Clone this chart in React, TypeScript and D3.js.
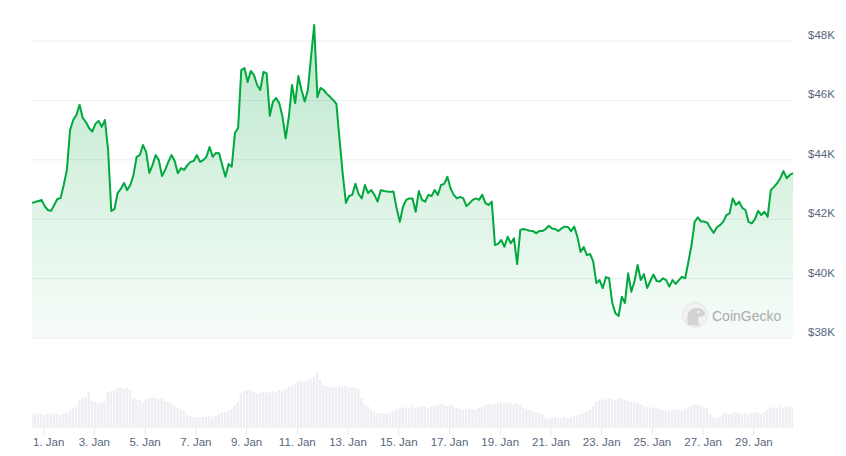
import { useMemo } from "react";
import * as d3 from "d3";

const W = 846;
const H = 456;
const M = { left: 32, right: 793, priceTop: 41, priceBottom: 338, volTop: 368, volBottom: 428 };

// hourly-ish samples, one every 3 hours, from 31 Dec 13:00 UTC
const START = Date.UTC(2023, 11, 31, 13);
const STEP_H = 3;

const PRICES = [
  42550, 42580, 42610, 42650, 42440, 42310, 42280, 42480, 42680, 42710,
  43150, 43660, 45000, 45340, 45510, 45850, 45410, 45270, 45070, 44950,
  45210, 45310, 45110, 45340, 44330, 42280, 42340, 42880, 43020, 43220,
  42980, 43150, 43490, 44100, 44160, 44500, 44260, 43560, 43820, 44160,
  43990, 43450, 43660, 43930, 44160, 43960, 43550, 43720, 43660, 43820,
  43930, 43960, 44160, 43930, 43990, 44100, 44430, 44100, 44230, 44220,
  43820, 43430, 43860, 43770, 44900, 45070, 47020, 47090, 46620, 46990,
  46860, 46520, 46350, 46960, 46910, 45480, 45960, 46080, 45900, 45450,
  44720, 45450, 46520, 45910, 46820, 46350, 45960, 46350, 47470, 48540,
  46110, 46420, 46350, 46220, 46120, 46010, 45880, 44670, 43520, 42550,
  42780, 42820, 43190, 42850, 42700, 43150, 42880, 42980, 42820, 42590,
  42980, 42950, 42930, 42920, 42930, 42370, 41910, 42420, 42650, 42700,
  42700, 42250, 42950, 42650, 42590, 42820, 42780, 42980, 42820, 43150,
  43190, 43430, 43040, 42820, 42700, 42750, 42710, 42440, 42540, 42650,
  42700, 42650, 42820, 42540, 42480, 42590, 41130, 41170, 41300, 41070,
  41410, 41190, 41360, 40490, 41640, 41670, 41640, 41610, 41600, 41530,
  41600, 41600, 41670, 41780, 41690, 41670, 41600, 41690, 41750, 41740,
  41600, 41750, 41410, 40900, 41060, 40790, 40830, 40570, 39850, 39950,
  39680, 40050, 40010, 39180, 38830, 38740, 39390, 39180, 40180, 39560,
  39900, 40460, 39950, 40150, 39680, 39920, 40140, 39920, 39900, 40010,
  39950, 39730, 39950, 39820, 39950, 40060, 40010, 40560, 41130, 41920,
  42060, 41920, 41920, 41880, 41690, 41540, 41730, 41800, 41920, 42140,
  42200, 42700, 42480, 42590, 42380, 42310, 41910, 41860, 42000, 42280,
  42140, 42250, 42080, 42980, 43090, 43210, 43380, 43620, 43380, 43490,
  43550,
];

// traded volume, billions USD, same 3-hour steps
const VOLUMES = [
  0.72, 0.68, 0.74, 0.7, 0.66, 0.71, 0.69, 0.73, 0.7, 0.67, 0.72, 0.75,
  0.9, 1.0, 1.05,
  1.4, 1.5, 1.55, 1.8,
  1.35, 1.3, 1.25, 1.3, 1.35,
  1.8, 1.85,
  1.9, 2.0, 2.05, 1.95, 2.0, 1.9,
  1.5, 1.45, 1.4,
  1.25,
  1.45, 1.5, 1.55, 1.5, 1.45, 1.5,
  1.35, 1.3, 1.25,
  1.1, 1.0, 0.95, 0.85,
  0.65, 0.6, 0.55, 0.55, 0.5, 0.55, 0.55, 0.6, 0.55, 0.6,
  0.7, 0.8, 0.8, 0.85, 0.95,
  1.15, 1.3,
  1.75, 1.85, 1.9, 1.85, 1.8,
  1.7, 1.75, 1.8,
  1.8, 1.75, 1.85, 1.8, 1.9, 1.85,
  1.95, 2.05, 2.1,
  2.2, 2.3,
  2.35, 2.3, 2.4,
  2.45, 2.55,
  2.8,
  2.4, 2.15,
  2.1, 2.05, 2.0, 2.05, 2.1,
  2.05, 2.1, 2.0, 2.05, 2.0, 1.95,
  1.5,
  1.2, 1.1,
  0.9, 0.8, 0.75, 0.75, 0.7, 0.75,
  0.8, 0.85,
  0.95, 1.0, 1.0, 1.05, 1.0, 1.05, 1.0,
  1.05, 1.1, 1.05, 1.0, 1.05, 1.1,
  1.15, 1.2, 1.15, 1.1, 1.15, 1.1,
  1.0, 0.95, 0.9, 0.95, 1.0, 0.95, 0.9, 1.0,
  1.05, 1.15, 1.2, 1.15,
  1.2, 1.25, 1.3, 1.25, 1.3, 1.25, 1.2, 1.25,
  1.15, 1.0, 0.95, 0.9,
  0.85, 0.8, 0.75, 0.7,
  0.5, 0.45, 0.5, 0.55,
  0.5, 0.5, 0.55, 0.5, 0.55, 0.6, 0.65,
  0.7, 0.75, 0.8, 0.9,
  1.1, 1.3, 1.4,
  1.45, 1.4, 1.5, 1.45, 1.4, 1.45, 1.5,
  1.4, 1.35, 1.3, 1.3,
  1.25, 1.2, 1.1,
  1.05, 1.0, 1.05, 1.0, 0.95,
  0.9, 0.9, 0.85, 0.9, 0.95, 0.9, 0.85, 0.9,
  1.05, 1.15, 1.2, 1.15,
  1.1, 1.05, 1.0,
  0.7, 0.55, 0.5, 0.55,
  0.7, 0.75, 0.7, 0.75, 0.8, 0.75, 0.7, 0.75,
  0.7, 0.75, 0.8, 0.75, 0.7,
  0.8, 0.9, 1.0, 1.05,
  1.0, 1.05, 1.0, 1.05, 1.1, 1.05,
];

const PRICE_TICKS = [38000, 40000, 42000, 44000, 46000, 48000];

const GREEN = "#00a83e";
const AXIS = "#58667e";
const FONT = "'Liberation Sans', Arial, sans-serif";

const tOf = (i: number) => new Date(START + i * STEP_H * 3600e3);
const fmtDay = d3.utcFormat("%-d. %b");

export default function App() {
  const x = useMemo(
    () =>
      d3
        .scaleUtc()
        .domain([tOf(0), tOf(PRICES.length - 1)])
        .range([M.left, M.right]),
    []
  );
  const y = useMemo(
    () => d3.scaleLinear().domain([38000, 48000]).range([M.priceBottom, M.priceTop]),
    []
  );
  const yv = useMemo(() => d3.scaleLinear().domain([0, 3]).range([M.volBottom, M.volTop]), []);

  const pts = PRICES.map((v, i) => ({ t: tOf(i), v }));
  const line = d3
    .line<{ t: Date; v: number }>()
    .x((d) => x(d.t))
    .y((d) => y(d.v));
  const area = d3
    .area<{ t: Date; v: number }>()
    .x((d) => x(d.t))
    .y0(M.priceBottom)
    .y1((d) => y(d.v));

  const step = x(tOf(1)) - x(tOf(0));
  const days = x.ticks(d3.utcDay.every(2)!);

  return (
    <div style={{ position: "absolute", left: 0, top: 0, width: W, height: H, background: "#fff" }}>
      <svg width={W} height={H} viewBox={`0 0 ${W} ${H}`} style={{ display: "block" }}>
        <defs>
          <linearGradient id="fillGrad" gradientUnits="userSpaceOnUse" x1={0} x2={0} y1={M.priceTop - 15} y2={M.priceBottom}>
            <stop offset="0%" stopColor={GREEN} stopOpacity={0.27} />
            <stop offset="100%" stopColor={GREEN} stopOpacity={0.03} />
          </linearGradient>
        </defs>

        {PRICE_TICKS.map((t) => (
          <g key={t}>
            <line x1={M.left} x2={M.right} y1={y(t)} y2={y(t)} stroke="#eceef2" strokeWidth={1} />
            <text x={808} y={y(t) - 2} fontSize={11.5} fontFamily={FONT} fill={AXIS}>
              {`$${t / 1000}K`}
            </text>
          </g>
        ))}

        {/* volume pane */}
        {VOLUMES.map((v, i) => {
          const cx = x(tOf(i));
          const x0 = Math.max(M.left, cx - step / 2);
          const x1 = Math.min(M.right, cx + step / 2 - 0.7);
          if (x1 <= x0) return null;
          return <rect key={i} x={x0} y={yv(v)} width={x1 - x0} height={M.volBottom - yv(v)} fill="#edeff3" />;
        })}

        {days.map((d, i) => {
          const px = x(d);
          return (
            <g key={+d}>
              <line x1={px} x2={px} y1={M.volBottom} y2={M.volBottom + 7} stroke="#e6e9ee" />
              <text
                x={i === 0 ? M.left + 1 : px}
                y={446}
                textAnchor={i === 0 ? "start" : "middle"}
                fontSize={11.5}
                fontFamily={FONT}
                fill={AXIS}
              >
                {fmtDay(d)}
              </text>
            </g>
          );
        })}

        <path d={area(pts) ?? undefined} fill="url(#fillGrad)" />
        <path d={line(pts) ?? undefined} fill="none" stroke={GREEN} strokeWidth={2} strokeLinejoin="round" />

        {/* watermark */}
        <g opacity={0.9}>
          <circle cx={695} cy={315} r={12.5} fill="#f1f1f1" stroke="#e3e3e3" />
          <path
            d="M688 325 C686 316 688 309 695 308 C700 307.5 704 310 705 313 C705.5 316 702 316.5 699 316.5 C697.5 318.5 698 322 699.5 325.5 Z"
            fill="#cfcfcf"
          />
          <circle cx={698} cy={312} r={1.3} fill="#f4f4f4" />
          <text x={712} y={320.5} fontSize={14} fontFamily={FONT} fill="#a3a3a3">
            CoinGecko
          </text>
        </g>
      </svg>
    </div>
  );
}
